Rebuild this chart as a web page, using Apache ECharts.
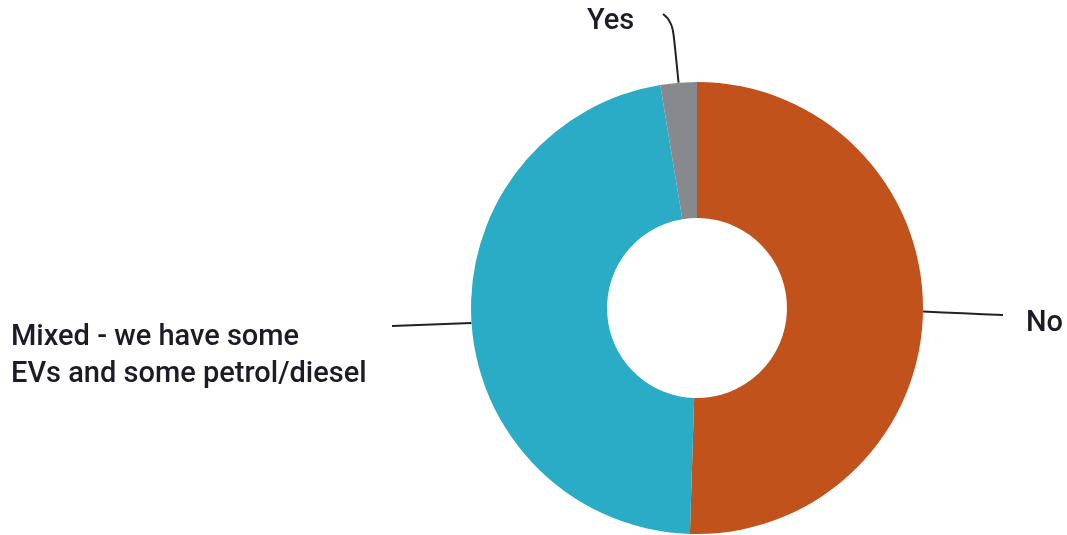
<!DOCTYPE html>
<html>
<head>
<meta charset="utf-8">
<script src="https://cdn.jsdelivr.net/npm/echarts@6/dist/echarts.min.js"></script>
<style type="text/css">
html, body {margin: 0; padding: 0; background: #fff;}
#chart {width: 1067px; height: 535px;}
</style>
</head>
<body>
<div id="chart"></div>
<script>
// survey answers, clockwise from 12 o'clock
var categories = ['No', 'Mixed - we have some\nEVs and some petrol/diesel', 'Yes'];
var shares = [50.5, 46.9, 2.6];
var colors = ['#c1521b', '#2aabc6', '#88898c'];

var myChart = echarts.init(document.getElementById('chart'), null, {renderer: 'canvas'});

// where each label sits (pixel anchor of text, end of its leader line)
var labelSpots = [
    {x: 1026, y: 324, lineEnd: [1003, 315]},
    {x: 11, y: 356, lineEnd: [392, 326]},
    {x: 587, y: 22, lineEnd: [663, 14]}
];

var data = categories.map(function (name, i) {
    return {name: name, value: shares[i], itemStyle: {color: colors[i]}};
});

var options = {
    animation: false,
    series: [{
        type: 'pie',
        center: [697, 308],
        radius: [90, 226],
        startAngle: 90,
        clockwise: true,
        data: data,
        label: {
            show: true,
            position: 'outside',
            color: '#1c1c28',
            fontFamily: 'Roboto',
            fontWeight: 500,
            fontSize: 29,
            lineHeight: 37
        },
        labelLine: {
            show: true,
            smooth: 0.5,
            length: 10,
            length2: 30,
            lineStyle: {color: '#222', width: 2}
        },
        labelLayout: function (p) {
            var s = labelSpots[p.dataIndex];
            var pts = p.labelLinePoints;
            var start = pts ? pts[0] : s.lineEnd;
            var line;
            if (p.dataIndex === 2) {
                line = [start, [start[0] - 6, 22], s.lineEnd];
            } else {
                line = [start, [(start[0] + s.lineEnd[0]) / 2, (start[1] + s.lineEnd[1]) / 2], s.lineEnd];
            }
            return {
                x: s.x,
                y: s.y,
                align: 'left',
                verticalAlign: 'middle',
                labelLinePoints: line
            };
        }
    }]
};

myChart.setOption(options);
</script>
</body>
</html>
